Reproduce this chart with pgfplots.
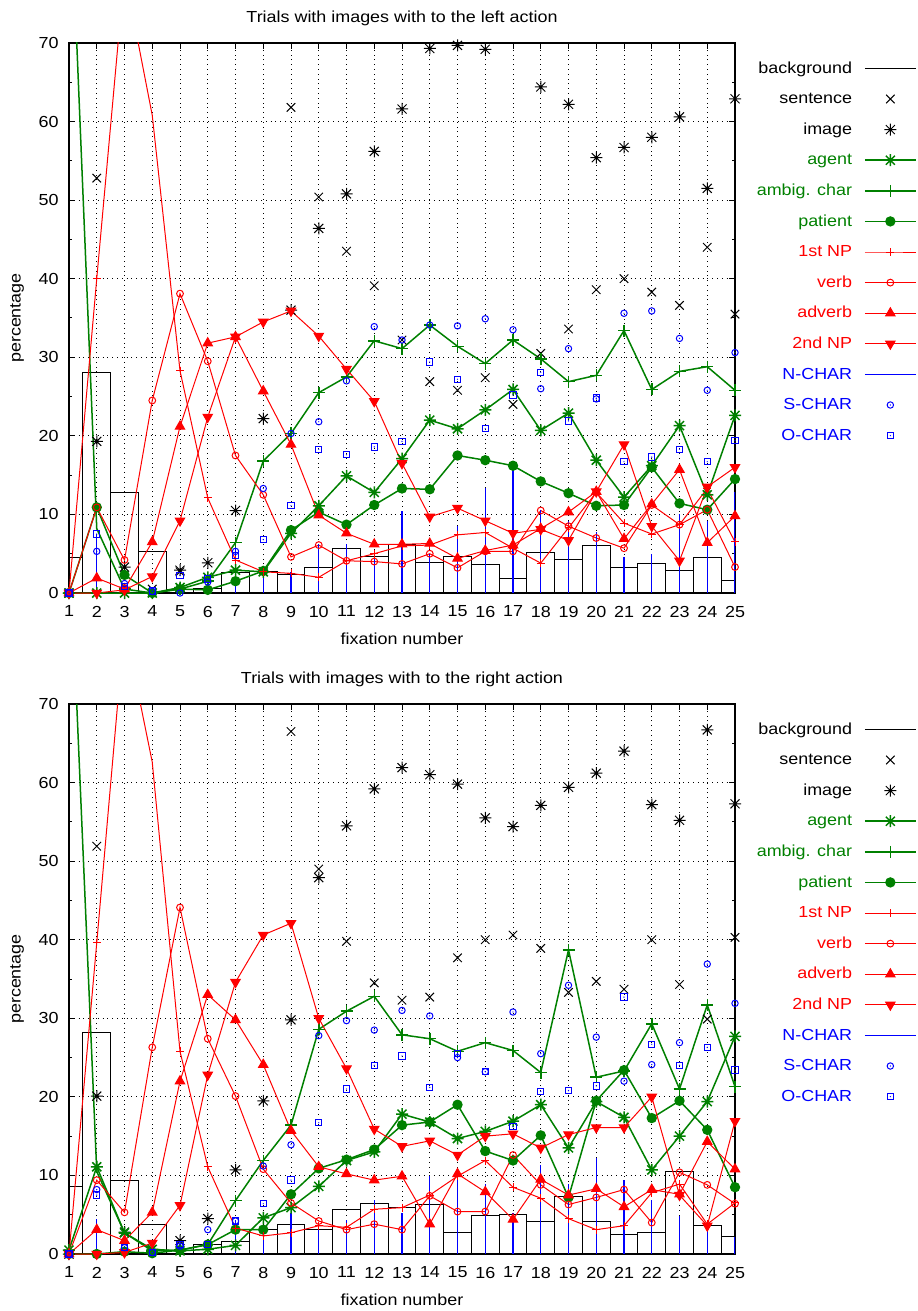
\documentclass[border=0pt]{standalone}
\usepackage{fontspec}
\setmainfont[FakeStretch=1.12]{Liberation Sans}
\usepackage{pgfplots}
\usepackage{pgfplotstable}
\pgfplotsset{compat=1.18}
\definecolor{gpgreen}{RGB}{0,128,0}
\definecolor{gpred}{RGB}{255,0,0}
\definecolor{gpblue}{RGB}{0,0,255}
\pgfdeclareplotmark{gpstar}{%
  \pgfpathmoveto{\pgfqpoint{-\pgfplotmarksize}{0pt}}\pgfpathlineto{\pgfqpoint{\pgfplotmarksize}{0pt}}%
  \pgfpathmoveto{\pgfqpoint{0pt}{-\pgfplotmarksize}}\pgfpathlineto{\pgfqpoint{0pt}{\pgfplotmarksize}}%
  \pgfpathmoveto{\pgfqpoint{-.75\pgfplotmarksize}{-.75\pgfplotmarksize}}\pgfpathlineto{\pgfqpoint{.75\pgfplotmarksize}{.75\pgfplotmarksize}}%
  \pgfpathmoveto{\pgfqpoint{-.75\pgfplotmarksize}{.75\pgfplotmarksize}}\pgfpathlineto{\pgfqpoint{.75\pgfplotmarksize}{-.75\pgfplotmarksize}}%
  \pgfusepathqstroke}
\pgfdeclareplotmark{odot}{%
  \pgfpathcircle{\pgfpointorigin}{\pgfplotmarksize}\pgfusepathqstroke
  \pgfpathcircle{\pgfpointorigin}{0.35pt}\pgfusepathqfill}
\pgfdeclareplotmark{sqdot}{%
  \pgfpathrectangle{\pgfqpoint{-\pgfplotmarksize}{-\pgfplotmarksize}}{\pgfqpoint{2\pgfplotmarksize}{2\pgfplotmarksize}}\pgfusepathqstroke
  \pgfpathcircle{\pgfpointorigin}{0.35pt}\pgfusepathqfill}

\pgfplotstableread{
x bg sent img agent ambig pat np1 verb adv np2 nch sch och
1 4.5 0 0 0 94 0 0 0 0 0 0 0 0
2 28.0 52.8 19.3 0 8.2 10.9 40.0 10.9 1.9 0 7.5 5.3 7.5
3 12.8 nan 3.3 0 0.5 2.3 79 4.2 0.5 0.4 1.0 1.2 0.8
4 5.3 0.5 nan 0 0 0 60.8 24.5 6.5 2.1 0 0.2 0.25
5 0.5 2.7 2.9 0.7 0.5 0.5 28.3 38.1 21.2 9.2 0 0 2.25
6 0.6 nan 3.85 2.0 1.5 0.4 12.1 29.5 31.8 22.4 1.0 1.4 1.8
7 2.6 nan 10.5 2.9 6.4 1.5 4.2 17.5 32.6 32.6 6 5.3 4.8
8 2.7 nan 22.2 2.7 16.8 2.8 2.7 12.5 25.7 34.5 3 13.3 6.8
9 2.4 61.8 36.0 7.6 20.3 8.0 2.5 4.6 18.9 35.9 2.7 20.3 11.1
10 3.3 50.4 46.4 11.1 25.5 10.3 2.0 6.1 9.9 32.7 6.2 21.8 18.3
11 5.7 43.5 50.8 14.9 27.5 8.7 4.1 4.1 7.6 28.5 6.2 27.0 17.6
12 4.7 39.1 56.2 12.8 32.1 11.2 5.0 4.0 6.2 24.4 5.0 33.9 18.6
13 6.2 32.2 61.6 17.1 31.1 13.3 6.0 3.7 6.2 16.5 10.4 32.2 19.3
14 3.9 26.9 69.3 22.0 34.1 13.2 6.1 5.0 6.3 9.7 5.0 34.1 29.4
15 4.7 25.8 69.7 20.9 31.4 17.5 7.4 3.2 4.4 10.8 8.5 34.0 27.2
16 3.6 27.4 69.2 23.3 29.2 16.9 7.7 5.3 5.4 9.2 13.4 34.9 20.9
17 1.9 24.0 nan 25.9 32.2 16.2 5.7 5.3 6.1 7.6 16.2 33.5 25.2
18 5.2 30.5 64.4 20.7 29.8 14.2 3.8 10.5 8.2 8.1 10.6 26.0 28.1
19 4.3 33.6 62.2 22.9 26.9 12.7 8.3 8.5 10.3 6.7 9.2 31.1 21.9
20 6.0 38.6 55.4 16.9 27.7 11.1 12.8 7.0 12.9 12.9 7.8 24.7 24.8
21 3.3 40.0 56.7 12.2 33.4 11.2 8.9 5.7 6.9 18.9 4.6 35.6 16.7
22 3.75 38.3 58.0 16.2 25.9 16.0 7.5 11.2 11.3 8.5 5.0 35.9 17.3
23 2.9 36.6 60.6 21.3 28.2 11.4 8.7 8.7 15.7 4.1 10.0 32.4 18.3
24 4.5 44.0 51.5 12.5 28.8 10.6 13.3 10.6 6.4 13.5 9.2 25.8 16.7
25 1.6 35.5 62.9 22.6 25.8 14.5 6.5 3.3 9.8 16.0 12.9 30.6 19.4
}\toptable

\pgfplotstableread{
x bg sent img agent ambig pat np1 verb adv np2 nch sch och
1 8.6 0 0 0.5 93 0 0 0 0 0 0 0 0
2 28.2 51.9 20.1 11.1 10.5 0 39.6 9.4 3.1 0 4.4 8.2 7.5
3 9.3 nan 2.8 2.7 2.7 0.3 80 5.3 1.7 0.2 1.0 0.8 0.8
4 3.7 nan nan 0.6 0.4 0.1 62.6 26.3 5.3 1.4 0 0.2 0.2
5 0.5 nan 1.7 0.4 0.5 0.5 25.8 44.1 22.0 6.2 0.5 1.0 1.2
6 1.2 nan 4.5 0.6 1.2 1.2 11.1 27.4 33.0 22.8 1.2 3.1 1.2
7 1.6 nan 10.7 1.1 6.8 3.1 3.3 20.1 29.8 34.6 4.3 4.2 4.2
8 3.1 nan 19.5 4.6 11.9 3.1 2.3 10.8 24.1 40.6 2.5 11.2 6.4
9 3.8 66.5 29.8 5.9 16.4 7.6 2.7 6.5 15.7 42.1 5.2 13.9 9.4
10 3.1 49.0 47.9 8.6 28.6 10.9 3.6 4.2 11.1 30.0 3.4 27.8 16.7
11 5.7 39.8 54.5 11.9 30.9 12.0 3.4 3.1 10.2 23.6 4.3 29.7 21.0
12 6.4 34.5 59.2 13.0 32.8 13.3 5.7 3.8 9.4 15.9 6.9 28.5 24.0
13 5.9 32.3 61.9 17.8 27.9 16.4 5.9 3.1 9.9 13.7 5.2 31.0 25.2
14 6.3 32.7 61.0 16.8 27.4 16.8 7.5 7.4 3.8 14.4 9.9 30.3 21.2
15 2.7 37.7 59.8 14.7 25.8 19.0 9.9 5.4 10.2 12.6 10.6 25.0 25.5
16 4.9 40.0 55.5 15.6 26.9 13.1 11.9 5.4 7.9 15.0 8.9 23.2 23.2
17 5.0 40.6 54.4 16.9 25.9 11.9 8.5 12.6 4.4 15.3 5.2 30.8 16.2
18 4.1 38.9 57.1 19.0 23.1 15.1 7.1 8.8 9.5 13.5 11.3 25.5 20.7
19 7.3 33.3 59.4 13.5 38.7 7.2 4.5 6.3 7.5 15.2 8.9 34.2 20.8
20 4.2 34.7 61.2 19.4 22.5 19.5 3.1 7.2 8.3 16.1 12.2 27.6 21.4
21 2.5 33.7 64.0 17.4 23.3 23.4 3.6 8.2 6.0 16.1 9.4 22.0 32.7
22 2.8 40.0 57.2 10.7 29.3 17.3 7.8 4.0 8.2 20.0 6.9 24.1 26.7
23 10.5 34.3 55.2 15.0 21.0 19.5 8.9 10.4 7.6 7.5 4.8 26.9 24.0
24 3.6 29.9 66.7 19.4 31.7 15.8 3.8 8.8 14.3 3.6 3.8 36.9 26.3
25 2.2 40.3 57.3 27.7 21.3 8.5 6.5 6.4 10.8 16.9 2.2 31.9 23.4
}\bottable

\pgfplotsset{
  gpaxis/.style={
    width=333pt, height=275pt, scale only axis,
    xmin=1, xmax=25, ymin=0, ymax=70,
    xtick={1,...,25}, ytick={0,10,...,70}, minor ytick={5,15,...,65},
    tick align=inside, major tick length=3pt, minor tick length=1.5pt,
    xmajorgrids, ymajorgrids,
    major grid style={black, dotted, line width=0.5pt},
    axis line style={black, line width=0.9pt},
    every tick/.style={black, line width=0.5pt},
    /pgf/number format/assume math mode=true,
    xticklabel style={yshift=-3.6pt},
    yticklabel style={xshift=-2.3pt},
    xlabel={fixation number}, ylabel={percentage},
    every axis x label/.style={at={(axis description cs:0.5,-0.0836)}, anchor=center},
    every axis y label/.style={at={(axis description cs:-0.078,0.5)}, rotate=90, anchor=center},
    every axis title/.style={at={(axis description cs:0.5,1.045)}, anchor=center},
    legend image code/.code={\draw[#1, mark indices={2}] plot coordinates {(0pt,0pt) (12.75pt,0pt) (25.5pt,0pt)};},
    legend cell align=right, legend plot pos=right,
    legend style={at={(1,1)}, anchor=north east, xshift=91pt, yshift=-4.85pt,
      draw=none, fill=none, inner sep=0pt, row sep=0pt, column sep=6pt,
      nodes={inner xsep=0pt, inner ysep=3.5pt, text height=6.5pt, text depth=1.8pt}},
  },
  bgstyle/.style={ybar, bar width=1, bar shift=0pt, fill=none, draw=black, line width=0.5pt,
    legend image code/.code={\draw[black, line width=0.5pt] (0pt,0pt) -- (25.5pt,0pt);}},
  ncstyle/.style={ycomb, gpblue, line width=0.6pt,
    legend image code/.code={\draw[gpblue, line width=0.5pt] (0pt,0pt) -- (25.5pt,0pt);}},
}

\newcommand\plotall[1]{%
  \addplot[bgstyle] table[x=x,y=bg] {#1};
  \addlegendentry{background}
  \addplot[only marks, mark=x, mark size=3pt, black, line width=0.5pt] table[x=x,y=sent] {#1};
  \addlegendentry{sentence}
  \addplot[only marks, mark=gpstar, mark size=3pt, black, line width=0.5pt] table[x=x,y=img] {#1};
  \addlegendentry{image}
  \addplot[gpgreen, line width=0.75pt, mark=gpstar, mark size=3pt] table[x=x,y=agent] {#1};
  \addlegendentry[text=gpgreen]{agent}
  \addplot[gpgreen, line width=0.75pt, mark=+, mark size=3pt, mark indices={2,...,25}] table[x=x,y=ambig] {#1};
  \addlegendentry[text=gpgreen]{ambig. char}
  \addplot[gpgreen, line width=0.75pt, mark=*, mark size=2.2pt] table[x=x,y=pat] {#1};
  \addlegendentry[text=gpgreen]{patient}
  \addplot[gpred, line width=0.5pt, mark=+, mark size=2pt, mark indices={1,2,4,5,...,25}] table[x=x,y=np1] {#1};
  \addlegendentry[text=gpred]{1st NP}
  \addplot[gpred, line width=0.5pt, mark=o, mark size=1.7pt] table[x=x,y=verb] {#1};
  \addlegendentry[text=gpred]{verb}
  \addplot[gpred, line width=0.5pt, mark=triangle*, mark size=2.7pt] table[x=x,y=adv] {#1};
  \addlegendentry[text=gpred]{adverb}
  \addplot[gpred, line width=0.5pt, mark=triangle*, mark size=2.7pt, mark options={rotate=180}] table[x=x,y=np2] {#1};
  \addlegendentry[text=gpred]{2nd NP}
  \addplot[ncstyle] table[x=x,y=nch] {#1};
  \addlegendentry[text=gpblue]{N-CHAR}
  \addplot[only marks, gpblue, mark=odot, mark size=1.6pt, line width=0.5pt] table[x=x,y=sch] {#1};
  \addlegendentry[text=gpblue]{S-CHAR}
  \addplot[only marks, gpblue, mark=sqdot, mark size=1.6pt, line width=0.5pt] table[x=x,y=och] {#1};
  \addlegendentry[text=gpblue]{O-CHAR}
}

\begin{document}
\fontsize{8}{10}\selectfont
\begin{tikzpicture}[font=\fontsize{8}{10}\selectfont]
\path[use as bounding box] (-34.5pt,-359pt) rectangle (424pt,296.5pt);
\begin{axis}[gpaxis, at={(0,0)}, anchor=south west,
  title={Trials with images with to the left action}]
\plotall{\toptable}
\end{axis}
\begin{axis}[gpaxis, at={(0,-330.5pt)}, anchor=south west,
  title={Trials with images with to the right action}]
\plotall{\bottable}
\end{axis}
\end{tikzpicture}
\end{document}
